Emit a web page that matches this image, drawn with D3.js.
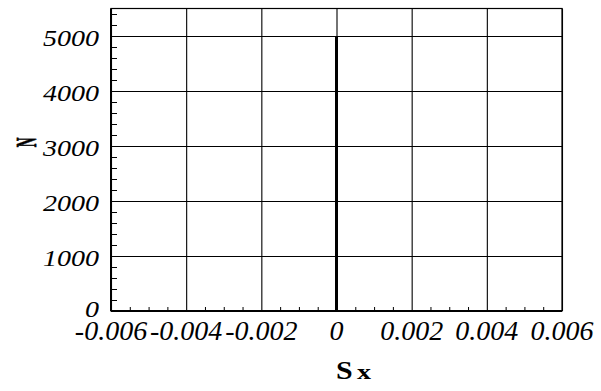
<!DOCTYPE html>
<html>
<head>
<meta charset="utf-8">
<script src="https://cdn.jsdelivr.net/npm/d3@7"></script>
<style>
  html, body { margin: 0; padding: 0; background: #fff; }
  svg { display: block; }
  .tick-label { font-family: "Liberation Serif", "Times New Roman", serif; font-style: italic; fill: #000; }
  .title { font-family: "Liberation Serif", "Times New Roman", serif; font-weight: bold; fill: #000; }
</style>
</head>
<body>
<script>
// Axis ticks
const xTicks = [-0.006, -0.004, -0.002, 0, 0.002, 0.004, 0.006];
const xTickLabels = ["-0.006", "-0.004", "-0.002", "0", "0.002", "0.004", "0.006"];
const yTicks = [0, 1000, 2000, 3000, 4000, 5000];
const yTickLabels = ["0", "1000", "2000", "3000", "4000", "5000"];

// Series: strain Sx against cycle count N
const nValues = [0, 1000, 2000, 3000, 4000, 5000];
const sxValues = [0, 0, 0, 0, 0, 0];

const W = 601, H = 391;
const plotL = 111, plotR = 562, plotT = 8.5, plotB = 311;

const x = d3.scaleLinear().domain([-0.006, 0.006]).range([plotL, plotR]);
const y = d3.scaleLinear().domain([0, 5500]).range([plotB, plotT]);

const svg = d3.select("body").append("svg").attr("width", W).attr("height", H);

// Minor tick positions
const xMinor = d3.range(-0.006, 0.00601, 0.0005).filter(v => !xTicks.some(t => Math.abs(t - v) < 1e-9));
const yMinor = d3.range(0, 5401, 200).filter(v => v % 1000 !== 0);

// Grid lines
svg.append("g")
  .attr("transform", `translate(0,${plotB})`)
  .call(d3.axisBottom(x).tickValues(xTicks).tickSize(-(plotB - plotT)).tickFormat(""))
  .call(g => g.select(".domain").remove())
  .call(g => g.selectAll("line").attr("stroke", "#000").attr("stroke-width", 1.1));
svg.append("g")
  .attr("transform", `translate(${plotL},0)`)
  .call(d3.axisLeft(y).tickValues(yTicks.filter(v => v > 0)).tickSize(-(plotR - plotL)).tickFormat(""))
  .call(g => g.select(".domain").remove())
  .call(g => g.selectAll("line").attr("stroke", "#000").attr("stroke-width", 1.1));

// Minor ticks pointing into the plot
svg.append("g")
  .attr("transform", `translate(0,${plotB})`)
  .call(d3.axisBottom(x).tickValues(xMinor).tickSize(-4).tickFormat(""))
  .call(g => g.select(".domain").remove())
  .call(g => g.selectAll("line").attr("stroke", "#000").attr("stroke-width", 1));
svg.append("g")
  .attr("transform", `translate(${plotL},0)`)
  .call(d3.axisLeft(y).tickValues(yMinor).tickSize(-6).tickFormat(""))
  .call(g => g.select(".domain").remove())
  .call(g => g.selectAll("line").attr("stroke", "#000").attr("stroke-width", 1));

// Frame
svg.append("rect")
  .attr("x", plotL).attr("y", plotT)
  .attr("width", plotR - plotL).attr("height", plotB - plotT)
  .attr("fill", "none").attr("stroke", "#000").attr("stroke-width", 1.2);
svg.append("line").attr("x1", plotL).attr("x2", plotL).attr("y1", plotT).attr("y2", plotB)
  .attr("stroke", "#000").attr("stroke-width", 2);
svg.append("line").attr("x1", plotL).attr("x2", plotR).attr("y1", plotB).attr("y2", plotB)
  .attr("stroke", "#000").attr("stroke-width", 2);

// Data line
const line = d3.line().x((d, i) => x(sxValues[i])).y(d => y(d));
svg.append("path")
  .datum(nValues)
  .attr("d", line)
  .attr("fill", "none")
  .attr("stroke", "#000")
  .attr("stroke-width", 3);

// X tick labels
svg.append("g").selectAll("text")
  .data(xTicks)
  .join("text")
  .attr("class", "tick-label")
  .attr("x", d => x(d))
  .attr("y", 340)
  .attr("text-anchor", "middle")
  .attr("font-size", 28)
  .text((d, i) => xTickLabels[i]);

// Y tick labels
svg.append("g").selectAll("text")
  .data(yTicks)
  .join("text")
  .attr("class", "tick-label")
  .attr("text-anchor", "end")
  .attr("font-size", 23)
  .attr("transform", d => `translate(99,${y(d) + (d === 0 ? 6 : 10)}) scale(1.22,1)`)
  .text((d, i) => yTickLabels[i]);

// Axis titles
svg.append("text")
  .attr("class", "title")
  .attr("font-size", 26)
  .attr("transform", "translate(336,379) scale(1.15,1)")
  .text("S");
svg.append("text")
  .attr("class", "title")
  .attr("font-size", 20)
  .attr("transform", "translate(357,379) scale(1.4,1)")
  .text("x");

svg.append("text")
  .attr("class", "title")
  .attr("font-size", 30)
  .attr("text-anchor", "middle")
  .attr("stroke", "#000")
  .attr("stroke-width", 0.8)
  .attr("transform", "translate(35.5,142.5) rotate(-90) scale(0.45,1)")
  .text("N");
</script>
</body>
</html>
